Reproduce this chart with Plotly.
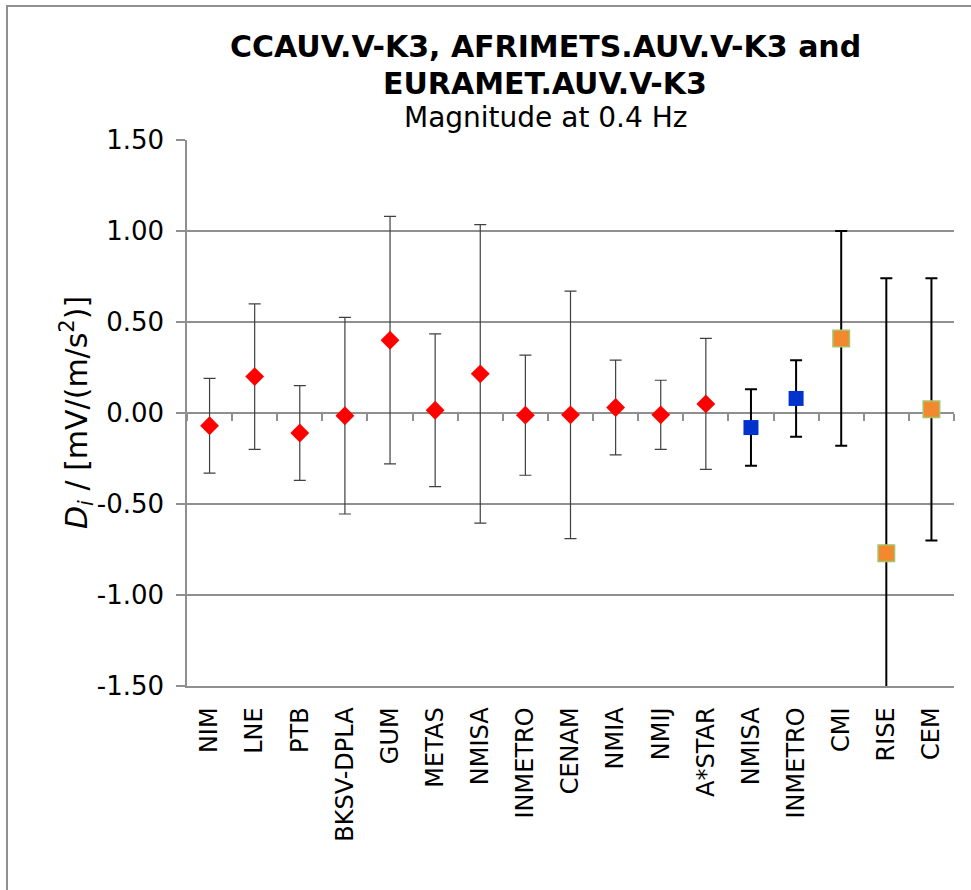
import plotly.graph_objects as go

# ---- data ----
categories = ["NIM", "LNE", "PTB", "BKSV-DPLA", "GUM", "METAS", "NMISA", "INMETRO",
              "CENAM", "NMIA", "NMIJ", "A*STAR", "NMISA", "INMETRO", "CMI", "RISE", "CEM"]

ccauv_di = [-0.07, 0.20, -0.11, -0.015, 0.40, 0.015, 0.215, -0.012, -0.01, 0.03, -0.01, 0.05]
ccauv_u = [0.26, 0.40, 0.26, 0.54, 0.68, 0.42, 0.82, 0.33, 0.68, 0.26, 0.19, 0.36]

afrimets_di = [-0.08, 0.08]
afrimets_u = [0.21, 0.21]

euramet_di = [0.41, -0.77, 0.02]
euramet_u = [0.59, 1.51, 0.72]

y_ticks = [1.5, 1.0, 0.5, 0.0, -0.5, -1.0, -1.5]
y_ticktext = ["1.50", "1.00", "0.50", "0.00", "-0.50", "-1.00", "-1.50"]

title_lines = ["CCAUV.V-K3, AFRIMETS.AUV.V-K3 and", "EURAMET.AUV.V-K3"]
subtitle = "Magnitude at 0.4 Hz"
y_title = "<i>D</i><sub><i>i</i></sub> / [mV/(m/s<sup>2</sup>)]"

# ---- positions derived from category order ----
n1, n2, n3 = len(ccauv_di), len(afrimets_di), len(euramet_di)
x1 = list(range(0, n1))
x2 = list(range(n1, n1 + n2))
x3 = list(range(n1 + n2, n1 + n2 + n3))
ncat = len(categories)

FONT = "DejaVu Sans"
GRID = "#8f8f8f"

fig = go.Figure()

fig.add_trace(go.Scatter(
    x=x1, y=ccauv_di, mode="markers",
    marker=dict(symbol="diamond", size=14.5, color="#FF0000", line=dict(width=0)),
    error_y=dict(type="data", array=ccauv_u, color="#404040", thickness=1.2, width=6),
    showlegend=False))

fig.add_trace(go.Scatter(
    x=x2, y=afrimets_di, mode="markers",
    marker=dict(symbol="square", size=15, color="#0033CC", line=dict(width=0)),
    error_y=dict(type="data", array=afrimets_u, color="#000000", thickness=2, width=6),
    showlegend=False))

fig.add_trace(go.Scatter(
    x=x3, y=euramet_di, mode="markers",
    marker=dict(symbol="square", size=16.5, color="#F2892F",
                line=dict(width=1.5, color="#A6C46A")),
    error_y=dict(type="data", array=euramet_u, color="#000000", thickness=2, width=6),
    showlegend=False))

# invisible trace for the secondary x axis (category tick marks along zero line)
fig.add_trace(go.Scatter(x=[None], y=[None], xaxis="x2", mode="markers",
                         showlegend=False, hoverinfo="skip"))

fig.update_layout(
    width=971, height=890,
    margin=dict(l=187, r=17, t=140, b=204),
    paper_bgcolor="white", plot_bgcolor="white",
    font=dict(family=FONT, color="black", size=24),
    xaxis=dict(
        range=[-0.5, ncat - 0.5],
        tickmode="array", tickvals=list(range(ncat)), ticktext=categories,
        tickangle=-90, ticks="", showgrid=False, zeroline=False,
        showline=True, linecolor=GRID, linewidth=1.5,
        tickfont=dict(family=FONT, size=24, color="black"),
        ticklabelstandoff=10,
    ),
    xaxis2=dict(
        overlaying="x", anchor="free", position=0.5, side="bottom",
        range=[-0.5, ncat - 0.5],
        tickmode="array", tickvals=[i - 0.5 for i in range(ncat + 1)],
        ticks="outside", ticklen=7, tickwidth=1.5, tickcolor=GRID,
        showticklabels=False, showgrid=False, zeroline=False, showline=False,
    ),
    yaxis=dict(
        range=[-1.5, 1.5],
        tickmode="array", tickvals=y_ticks, ticktext=y_ticktext,
        ticks="outside", ticklen=9, tickwidth=1.5, tickcolor=GRID,
        showgrid=True, gridcolor=GRID, gridwidth=1.5,
        zeroline=True, zerolinecolor=GRID, zerolinewidth=1.5,
        showline=True, linecolor=GRID, linewidth=1.5,
        tickfont=dict(family=FONT, size=26, color="black"),
        ticklabelstandoff=7,
    ),
    annotations=[
        dict(text="<b>" + title_lines[0] + "</b>", xref="paper", yref="paper",
             x=(545 - 187) / 767, y=(686 - 47) / 546, xanchor="center", yanchor="middle",
             showarrow=False, font=dict(family=FONT, size=30, color="black")),
        dict(text="<b>" + title_lines[1] + "</b>", xref="paper", yref="paper",
             x=(545 - 187) / 767, y=(686 - 84) / 546, xanchor="center", yanchor="middle",
             showarrow=False, font=dict(family=FONT, size=30, color="black")),
        dict(text=subtitle, xref="paper", yref="paper",
             x=(545 - 187) / 767, y=(686 - 118) / 546, xanchor="center", yanchor="middle",
             showarrow=False, font=dict(family=FONT, size=28, color="black")),
        dict(text=y_title, xref="paper", yref="paper",
             x=(76 - 187) / 767, y=0.5, xanchor="center", yanchor="middle",
             textangle=-90, showarrow=False, font=dict(family=FONT, size=30, color="black")),
    ],
    shapes=[
        dict(type="rect", xref="paper", yref="paper",
             x0=(7 - 187) / 767, x1=(1100 - 187) / 767,
             y0=(686 - 1000) / 546, y1=(686 - 6) / 546,
             line=dict(color="#909090", width=2), fillcolor="rgba(0,0,0,0)", layer="below"),
    ],
)

fig.write_html("out.html")
